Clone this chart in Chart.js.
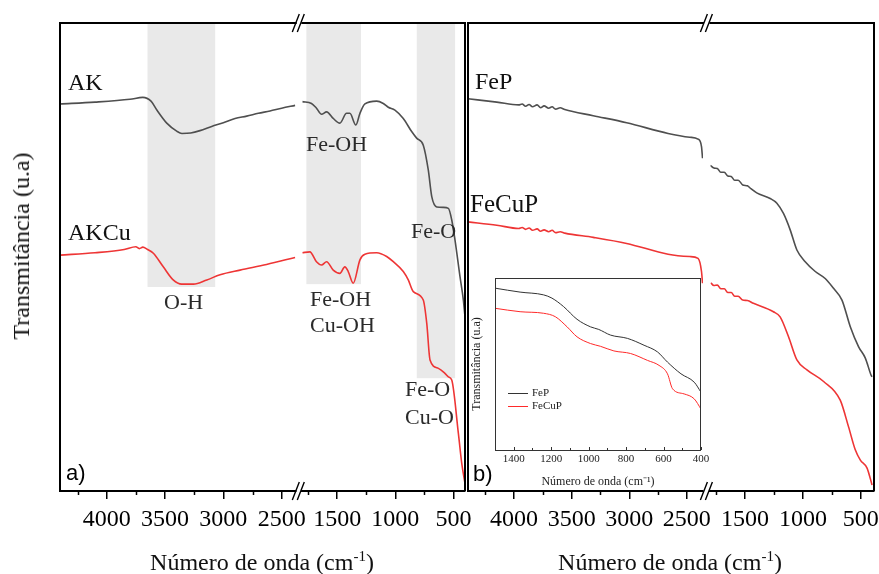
<!DOCTYPE html>
<html>
<head>
<meta charset="utf-8">
<script src="https://cdn.jsdelivr.net/npm/chart.js@4.4.0/dist/chart.umd.min.js"></script>
<style>
  body { margin: 0; background: #fff; }
  #wrap { position: relative; width: 879px; height: 574px; overflow: hidden; font-family: "Liberation Serif", "Times New Roman", serif; }
  canvas { position: absolute; left: 0; top: 0; }
  .lbl { position: absolute; line-height: 1; white-space: nowrap; color: #111; }
  .note { font-size: 22px; color: #2a2a2a; }
  .big { font-size: 24px; }
  .sup { font-size: 15px; position: relative; top: -9px; }
</style>
</head>
<body>
<div id="wrap">
  <canvas id="aL" width="879" height="574"></canvas>
  <canvas id="aR" width="879" height="574"></canvas>
  <canvas id="bL" width="879" height="574"></canvas>
  <canvas id="bR" width="879" height="574"></canvas>
  <canvas id="inset" width="879" height="574"></canvas>

  <div class="lbl big" style="left:68px;top:70px;">AK</div>
  <div class="lbl big" style="left:68px;top:220px;">AKCu</div>
  <div class="lbl big" style="left:475px;top:69px;">FeP</div>
  <div class="lbl" style="left:470px;top:191px;font-size:25px;">FeCuP</div>

  <div class="lbl note" style="left:164px;top:291px;">O-H</div>
  <div class="lbl note" style="left:306px;top:133px;">Fe-OH</div>
  <div class="lbl note" style="left:411px;top:220px;">Fe-O</div>
  <div class="lbl note" style="left:310px;top:288px;">Fe-OH</div>
  <div class="lbl note" style="left:310px;top:314px;">Cu-OH</div>
  <div class="lbl note" style="left:405px;top:378px;">Fe-O</div>
  <div class="lbl note" style="left:405px;top:406px;">Cu-O</div>

  <div class="lbl" style="left:66px;top:462px;font-family:'Liberation Sans',Arial,sans-serif;font-size:22px;color:#000;">a)</div>
  <div class="lbl" style="left:473px;top:463px;font-family:'Liberation Sans',Arial,sans-serif;font-size:22px;color:#000;">b)</div>

  <div class="lbl big" style="left:262px;top:550px;transform:translateX(-50%);">Número de onda (cm<span class="sup">-1</span>)</div>
  <div class="lbl big" style="left:670px;top:550px;transform:translateX(-50%);">Número de onda (cm<span class="sup">-1</span>)</div>
  <div class="lbl big" style="left:21px;top:246px;transform:translate(-50%,-50%) rotate(-90deg);">Transmitância (u.a)</div>
</div>

<script>
const grey = '#4f4f4f';
const red = '#ee3535';
const serif = '"Liberation Serif", "Times New Roman", serif';

// axis ticks (cm-1)
const leftTicks = [4000, 3500, 3000, 2500];
const leftMinor = [4250, 3750, 3250, 2750];
const rightTicks = [1500, 1000, 500];
const rightMinor = [1750, 1250, 750];
const insetTicks = [1400, 1200, 1000, 800, 600, 400];
const insetMinor = [1500, 1300, 1100, 900, 700, 500];

// shaded bands in panel a: O-H, Fe-OH, Fe-O
const bandFrom = [3650, 1765, 815];
const bandTo = [3070, 1295, 485];
const bandLow = [43.6, 44.2, 24.1];

// panel a - AK
const akLeftX = [4400, 4100, 3800, 3690, 3620, 3570, 3485, 3400, 3355, 3280, 3200, 3100, 3000, 2900, 2800, 2700, 2600, 2500, 2385];
const akLeftY = [82.7, 83.1, 83.7, 84.1, 83.3, 81.4, 78.6, 76.9, 76.4, 76.5, 77.0, 77.9, 78.7, 79.6, 80.1, 80.7, 81.2, 81.8, 82.4];
const akRightX = [1800, 1721, 1678, 1634, 1591, 1534, 1477, 1419, 1391, 1339, 1304, 1261, 1160, 1103, 1060, 1003, 931, 859, 816, 759, 716, 686, 643, 586, 543, 514, 486, 443, 414, 400];
const akRightY = [83.2, 82.8, 81.8, 80.5, 81.0, 79.6, 78.6, 80.7, 80.7, 78.2, 80.7, 82.7, 83.3, 82.8, 82.0, 81.4, 79.6, 76.8, 75.4, 73.9, 68.6, 62.9, 60.7, 60.6, 60.4, 57.9, 53.6, 45.8, 40.8, 37.2];

// panel a - AKCu
const akcuLeftX = [4400, 4100, 3850, 3750, 3720, 3690, 3650, 3600, 3515, 3430, 3357, 3257, 3142, 3028, 2857, 2630, 2385];
const akcuLeftY = [50.4, 50.9, 51.6, 52.2, 51.8, 52.1, 51.6, 50.8, 47.9, 45.1, 44.2, 44.2, 45.1, 46.2, 47.2, 48.4, 49.9];
const akcuRightX = [1800, 1735, 1678, 1634, 1591, 1534, 1477, 1434, 1405, 1362, 1304, 1261, 1160, 1074, 1017, 931, 888, 845, 759, 729, 701, 629, 571, 543, 514, 457, 428, 400];
const akcuRightY = [50.9, 51.1, 49.0, 48.3, 49.0, 47.2, 46.5, 47.9, 46.9, 44.4, 49.4, 50.6, 50.9, 50.1, 49.0, 46.9, 45.1, 42.6, 40.8, 35.8, 28.0, 26.2, 25.1, 24.4, 23.7, 12.3, 5.9, 1.6];

// panel b - FeP
const fepLeftX = [4400, 4150, 3960, 3930, 3900, 3870, 3840, 3800, 3770, 3740, 3700, 3670, 3640, 3600, 3560, 3313, 3023, 2663, 2475, 2403, 2373, 2364];
const fepLeftY = [83.8, 83.1, 82.5, 82.7, 82.2, 82.6, 82.1, 82.5, 81.9, 82.3, 81.8, 82.1, 81.6, 81.9, 81.5, 80.2, 78.7, 76.4, 75.6, 75.2, 73.6, 71.1];
const fepRightX = [1800, 1770, 1740, 1710, 1680, 1650, 1620, 1590, 1560, 1520, 1480, 1450, 1399, 1283, 1225, 1168, 1110, 1052, 980, 893, 807, 735, 662, 590, 518, 460, 411, 403];
const fepRightY = [69.6, 69.0, 68.9, 68.1, 68.1, 67.3, 67.2, 66.4, 66.4, 65.4, 65.2, 64.6, 63.7, 62.5, 61.5, 59.3, 55.8, 51.5, 49.0, 46.9, 45.4, 43.3, 40.8, 35.1, 30.8, 28.4, 24.8, 24.4];

// panel b - FeCuP
const fecupLeftX = [4400, 4150, 3960, 3930, 3900, 3870, 3840, 3800, 3770, 3740, 3700, 3670, 3640, 3600, 3560, 3313, 3023, 2663, 2475, 2403, 2373, 2364];
const fecupLeftY = [57.5, 56.8, 56.1, 56.3, 55.9, 56.2, 55.7, 56.0, 55.5, 55.8, 55.4, 55.7, 55.2, 55.4, 55.1, 54.2, 52.9, 50.6, 50.1, 49.7, 46.9, 44.4];
const fecupRightX = [1797, 1770, 1740, 1710, 1680, 1650, 1620, 1590, 1560, 1520, 1480, 1428, 1255, 1197, 1125, 1052, 965, 821, 677, 605, 547, 503, 445, 402];
const fecupRightY = [44.5, 43.9, 44.0, 43.2, 43.2, 42.4, 42.4, 41.6, 41.6, 40.8, 40.7, 40.1, 38.3, 37.2, 33.0, 28.0, 25.9, 23.4, 19.4, 13.7, 8.8, 6.6, 4.9, 1.3];

// inset (1500-400 cm-1)
const insetFepX = [1500, 1366, 1241, 1196, 1134, 1062, 990, 946, 883, 793, 704, 632, 579, 507, 436, 400];
const insetFepY = [94.1, 91.8, 90.2, 88.3, 83.4, 76.0, 71.6, 70.1, 66.8, 64.9, 60.9, 57.0, 51.1, 44.3, 39.4, 33.6];
const insetFecupX = [1500, 1366, 1241, 1178, 1115, 1062, 990, 937, 865, 776, 686, 624, 579, 552, 490, 436, 400];
const insetFecupY = [82.4, 80.4, 79.5, 77.5, 71.6, 65.8, 61.9, 60.3, 57.6, 56.1, 52.1, 49.2, 44.3, 35.6, 32.6, 29.7, 23.8];

function pts(xs, ys) {
  return xs.map((x, i) => ({ x: x, y: ys[i] }));
}

// frame, minor ticks, shaded bands and axis break marks
const panelPlugin = {
  id: 'panel',
  beforeDatasetsDraw(chart, args, opts) {
    if (!opts.bands) return;
    const { ctx, chartArea: a } = chart;
    const xs = chart.scales.x, ys = chart.scales.y;
    ctx.save();
    ctx.beginPath();
    ctx.rect(a.left, a.top, a.right - a.left, a.bottom - a.top);
    ctx.clip();
    ctx.fillStyle = '#e9e9e9';
    bandFrom.forEach((f, i) => {
      const x1 = xs.getPixelForValue(f), x2 = xs.getPixelForValue(bandTo[i]);
      const y1 = ys.getPixelForValue(100), y2 = ys.getPixelForValue(bandLow[i]);
      ctx.fillRect(Math.min(x1, x2), y1, Math.abs(x2 - x1), y2 - y1);
    });
    ctx.restore();
  },
  afterDraw(chart, args, opts) {
    const { ctx, chartArea: a } = chart;
    const xs = chart.scales.x;
    ctx.save();
    ctx.strokeStyle = '#000';
    ctx.lineWidth = 2;
    ctx.beginPath();
    ctx.moveTo(a.left - 1, a.top);
    ctx.lineTo(a.right + 1, a.top);
    if (opts.left) { ctx.moveTo(a.left, a.top); ctx.lineTo(a.left, a.bottom); }
    if (opts.right) { ctx.moveTo(a.right, a.top); ctx.lineTo(a.right, a.bottom); }
    ctx.stroke();

    ctx.lineWidth = 1.5;
    ctx.beginPath();
    (opts.minor || []).forEach(v => {
      const x = Math.round(xs.getPixelForValue(v)) + 0.5;
      ctx.moveTo(x, a.bottom);
      ctx.lineTo(x, a.bottom + 4);
    });
    ctx.stroke();

    if (opts.brk) {
      ctx.lineWidth = 1.4;
      ctx.beginPath();
      [a.top, a.bottom].forEach(y => {
        ctx.moveTo(a.left - 10, y + 9); ctx.lineTo(a.left - 3, y - 9);
        ctx.moveTo(a.left - 5, y + 9); ctx.lineTo(a.left + 2, y - 9);
      });
      ctx.stroke();
    }
    ctx.restore();
  }
};

function segment(id, cfg) {
  return new Chart(document.getElementById(id), {
    type: 'line',
    data: {
      datasets: cfg.sets.map(s => ({
        label: s.label,
        data: s.data,
        borderColor: s.color,
        borderWidth: 1.6,
        pointRadius: 0,
        cubicInterpolationMode: 'monotone'
      }))
    },
    options: {
      responsive: false,
      animation: false,
      events: [],
      layout: { padding: { left: cfg.left, right: 879 - cfg.right, top: 23, bottom: 43 } },
      scales: {
        x: {
          type: 'linear',
          reverse: true,
          min: cfg.min,
          max: cfg.max,
          afterBuildTicks: s => { s.ticks = cfg.ticks.map(v => ({ value: v })); },
          afterFit: s => { s.height = 40; s.paddingLeft = 0; s.paddingRight = 0; },
          ticks: {
            autoSkip: false, maxRotation: 0, padding: 6, color: '#000',
            font: { family: serif, size: 24 },
            callback: v => String(v)
          },
          grid: { drawOnChartArea: false, color: '#000', lineWidth: 1.5, tickLength: 8 },
          border: { display: true, color: '#000', width: 2 }
        },
        y: { display: false, min: 0, max: 100 }
      },
      plugins: {
        legend: { display: false },
        tooltip: { enabled: false },
        panel: { left: cfg.frameLeft, right: cfg.frameRight, minor: cfg.minor, bands: cfg.bands, brk: cfg.brk }
      }
    },
    plugins: [panelPlugin]
  });
}

segment('aL', {
  left: 60, right: 295.7, min: 2380, max: 4400, ticks: leftTicks, minor: leftMinor,
  frameLeft: true, bands: true,
  sets: [
    { label: 'AK', data: pts(akLeftX, akLeftY), color: grey },
    { label: 'AKCu', data: pts(akcuLeftX, akcuLeftY), color: red }
  ]
});
segment('aR', {
  left: 302.3, right: 465, min: 400, max: 1800, ticks: rightTicks, minor: rightMinor,
  frameRight: true, bands: true, brk: true,
  sets: [
    { label: 'AK', data: pts(akRightX, akRightY), color: grey },
    { label: 'AKCu', data: pts(akcuRightX, akcuRightY), color: red }
  ]
});
segment('bL', {
  left: 468, right: 703, min: 2360, max: 4400, ticks: leftTicks, minor: leftMinor,
  frameLeft: true,
  sets: [
    { label: 'FeP', data: pts(fepLeftX, fepLeftY), color: grey },
    { label: 'FeCuP', data: pts(fecupLeftX, fecupLeftY), color: red }
  ]
});
segment('bR', {
  left: 710.4, right: 874, min: 385, max: 1800, ticks: rightTicks, minor: rightMinor,
  frameRight: true, brk: true,
  sets: [
    { label: 'FeP', data: pts(fepRightX, fepRightY), color: grey },
    { label: 'FeCuP', data: pts(fecupRightX, fecupRightY), color: red }
  ]
});

// inset: white box, border, inward ticks and legend
const insetPlugin = {
  id: 'insetBox',
  beforeDraw(chart) {
    const { ctx, chartArea: a } = chart;
    ctx.save();
    ctx.fillStyle = '#fff';
    ctx.fillRect(a.left, a.top, a.right - a.left, a.bottom - a.top);
    ctx.restore();
  },
  afterDraw(chart) {
    const { ctx, chartArea: a } = chart;
    const xs = chart.scales.x;
    ctx.save();
    ctx.strokeStyle = '#333';
    ctx.lineWidth = 1;
    ctx.strokeRect(a.left + 0.5, a.top + 0.5, a.right - a.left - 1, a.bottom - a.top);
    ctx.beginPath();
    insetTicks.forEach(v => {
      const x = Math.round(xs.getPixelForValue(v)) + 0.5;
      ctx.moveTo(x, a.bottom); ctx.lineTo(x, a.bottom - 3);
    });
    insetMinor.forEach(v => {
      const x = Math.round(xs.getPixelForValue(v)) + 0.5;
      ctx.moveTo(x, a.bottom); ctx.lineTo(x, a.bottom - 2);
    });
    ctx.stroke();

    ctx.font = '11px ' + serif;
    ctx.textBaseline = 'middle';
    chart.data.datasets.forEach((d, i) => {
      const y = Math.round(a.top + 115 + i * 13.4) + 0.5;
      ctx.strokeStyle = d.borderColor;
      ctx.beginPath();
      ctx.moveTo(a.left + 13, y);
      ctx.lineTo(a.left + 33, y);
      ctx.stroke();
      ctx.fillStyle = '#222';
      ctx.fillText(d.label, a.left + 37, y);
    });
    ctx.restore();
  }
};

new Chart(document.getElementById('inset'), {
  type: 'line',
  data: {
    datasets: [
      { label: 'FeP', data: pts(insetFepX, insetFepY), borderColor: '#333', borderWidth: 1, pointRadius: 0, cubicInterpolationMode: 'monotone' },
      { label: 'FeCuP', data: pts(insetFecupX, insetFecupY), borderColor: '#ff2a2a', borderWidth: 1, pointRadius: 0, cubicInterpolationMode: 'monotone' }
    ]
  },
  options: {
    responsive: false,
    animation: false,
    events: [],
    layout: { padding: { left: 470, right: 178, top: 278, bottom: 85 } },
    scales: {
      x: {
        type: 'linear',
        reverse: true,
        min: 400,
        max: 1500,
        afterBuildTicks: s => { s.ticks = insetTicks.map(v => ({ value: v })); },
        afterFit: s => { s.height = 39; },
        ticks: { autoSkip: false, maxRotation: 0, padding: 3, color: '#222', font: { family: serif, size: 11 }, callback: v => String(v) },
        grid: { display: false, drawTicks: false },
        border: { display: false },
        title: { display: true, text: 'Número de onda (cm⁻¹)', color: '#222', font: { family: serif, size: 12 }, padding: 0 }
      },
      y: {
        min: 0,
        max: 100,
        afterFit: s => { s.width = 25; },
        ticks: { display: false },
        grid: { display: false, drawTicks: false },
        border: { display: false },
        title: { display: true, text: 'Transmitância (u.a)', color: '#222', font: { family: serif, size: 12 }, padding: 0 }
      }
    },
    plugins: { legend: { display: false }, tooltip: { enabled: false } }
  },
  plugins: [insetPlugin]
});
</script>
</body>
</html>
